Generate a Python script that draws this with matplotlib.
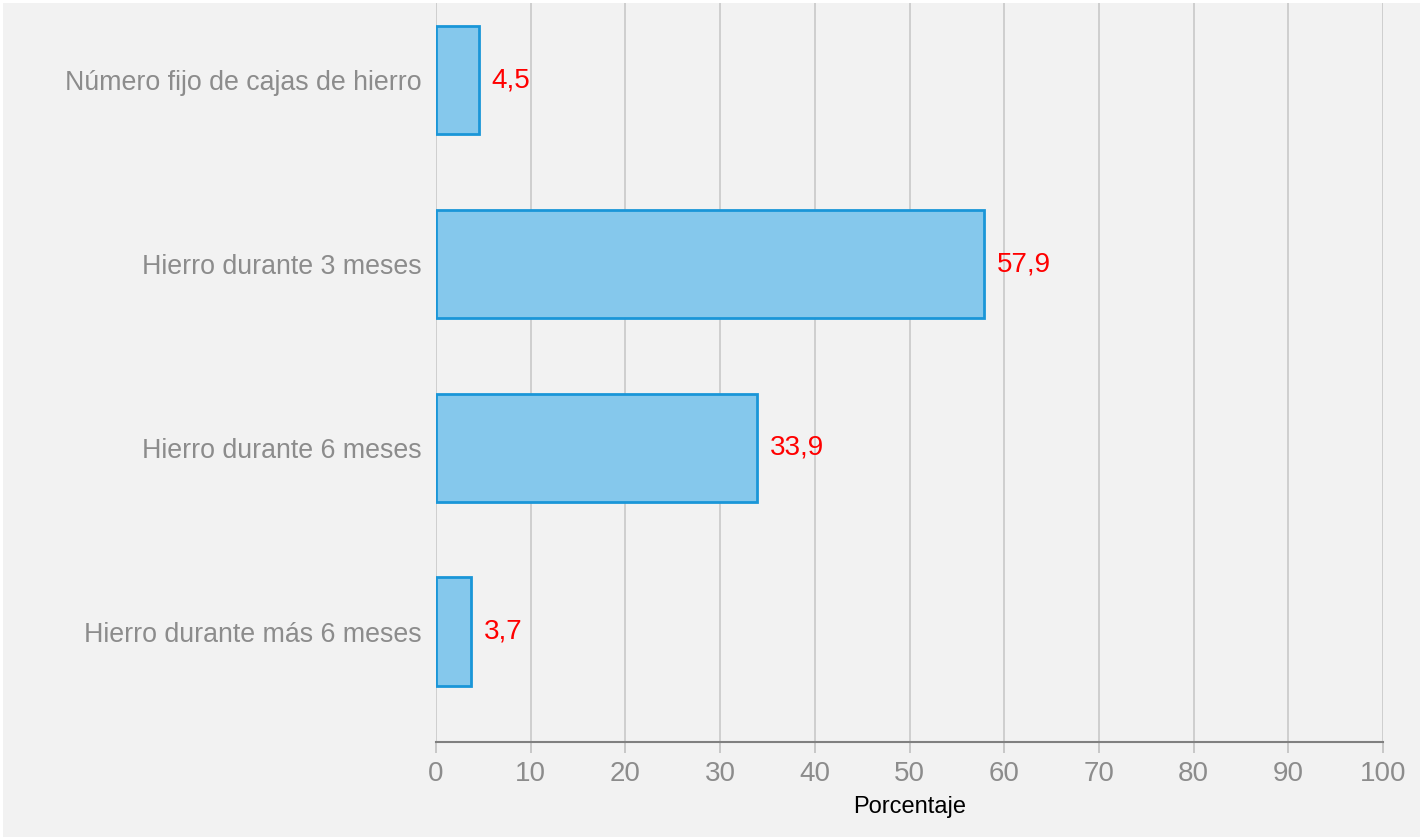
import matplotlib
matplotlib.use('Agg')
import matplotlib.pyplot as plt

categories = ['Número fijo de cajas de hierro',
              'Hierro durante 3 meses',
              'Hierro durante 6 meses',
              'Hierro durante más 6 meses']
values = [4.5, 57.9, 33.9, 3.7]
value_labels = ['4,5', '57,9', '33,9', '3,7']
x_ticks = list(range(0, 101, 10))

plt.rcParams['font.family'] = ['Liberation Sans', 'DejaVu Sans']

fig = plt.figure(figsize=(14.23, 8.4), dpi=100)
fig.patch.set_facecolor('#f2f2f2')
fig.patch.set_edgecolor('white')
fig.patch.set_linewidth(4.3)

ax = fig.add_axes([0.3064, 0.1167, 0.6655, 0.8797])
ax.set_facecolor('#f2f2f2')

pos = list(range(len(categories)))
ax.barh(pos, values, height=0.59, color='#85c8ec', edgecolor='#1a96d8', linewidth=2, zorder=3)

for p, v, lab in zip(pos, values, value_labels):
    ax.annotate(lab, (v, p), xytext=(9, 0), textcoords='offset points',
                va='center', ha='left', color='#ff0000', fontsize=20, zorder=4)

ax.set_xlim(0, 100)
ax.set_ylim(3.6, -0.42)
ax.set_xticks(x_ticks)
ax.set_yticks(pos)
ax.set_yticklabels(categories)

ax.grid(axis='x', color='#c8c8c8', linewidth=1.2, zorder=0)
ax.tick_params(axis='y', length=0, pad=10, labelsize=19.3, labelcolor='#8c8c8c')
ax.tick_params(axis='x', length=8, width=1.2, color='#c0c0c0', pad=6,
               labelsize=20, labelcolor='#8c8c8c')

for s in ['top', 'right', 'left']:
    ax.spines[s].set_visible(False)
ax.spines['bottom'].set_color('#808080')
ax.spines['bottom'].set_linewidth(1.5)

ax.set_xlabel('Porcentaje', fontsize=17, color='black', labelpad=6)

plt.savefig('out.png', dpi=100, facecolor=fig.get_facecolor(), edgecolor=fig.get_edgecolor())
